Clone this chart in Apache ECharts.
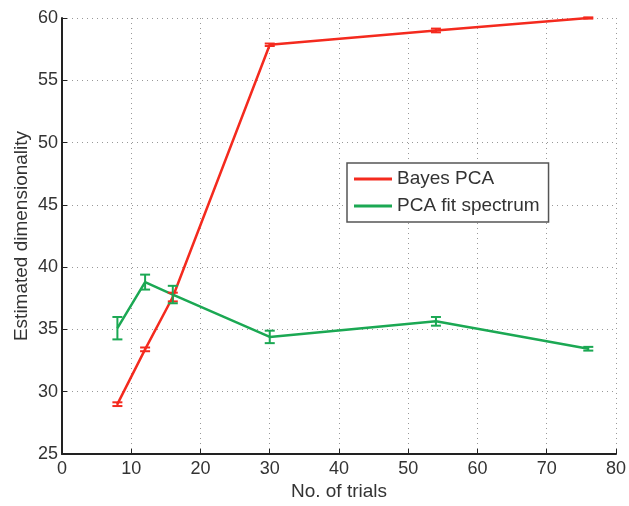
<!DOCTYPE html>
<html>
<head>
<meta charset="utf-8">
<script src="https://cdn.jsdelivr.net/npm/echarts@6/dist/echarts.min.js"></script>
<style>
  html, body { margin: 0; padding: 0; background: #fff; }
  #chart { width: 629px; height: 506px; }
</style>
</head>
<body>
<div id="chart"></div>
<script>
    // values
    var trials = [8, 12, 16, 30, 54, 76];
    var bayesMean = [29.0, 33.4, 37.6, 57.85, 59.0, 60.0];
    var bayesErr = [0.15, 0.15, 0.35, 0.1, 0.15, 0.05];
    var fitMean = [35.1, 38.8, 37.8, 34.4, 35.65, 33.45];
    var fitErr = [0.9, 0.6, 0.7, 0.5, 0.35, 0.15];

    var RED = '#f42a1e';
    var GREEN = '#1ba853';

    function pairs(xs, ys) {
        return xs.map(function (x, i) { return [x, ys[i]]; });
    }
    function errData(xs, m, e) {
        return xs.map(function (x, i) { return [x, m[i] - e[i], m[i] + e[i]]; });
    }
    function errRender(color) {
        return function (params, api) {
            var lo = api.coord([api.value(0), api.value(1)]);
            var hi = api.coord([api.value(0), api.value(2)]);
            var w = 5;
            var st = { stroke: color, lineWidth: 2 };
            return {
                type: 'group',
                children: [
                    { type: 'line', shape: { x1: lo[0], y1: lo[1], x2: hi[0], y2: hi[1] }, style: st },
                    { type: 'line', shape: { x1: lo[0] - w, y1: lo[1], x2: lo[0] + w, y2: lo[1] }, style: st },
                    { type: 'line', shape: { x1: hi[0] - w, y1: hi[1], x2: hi[0] + w, y2: hi[1] }, style: st }
                ]
            };
        };
    }

    var myChart = echarts.init(document.getElementById('chart'));
    var font = 'Liberation Sans, Helvetica, Arial, sans-serif';
    var gridLine = { show: true, lineStyle: { color: '#999', type: [1, 4], width: 1 } };

    var option = {
        animation: false,
        textStyle: { fontFamily: font },
        grid: { left: 62, right: 11, top: 18, bottom: 49 },
        legend: {
            orient: 'vertical',
            left: 347,
            top: 163,
            padding: [6, 9, 6, 7],
            itemGap: 7,
            itemWidth: 38,
            itemHeight: 3,
            icon: 'rect',
            backgroundColor: '#fff',
            borderColor: '#555',
            borderWidth: 1.5,
            borderRadius: 0,
            textStyle: { fontSize: 19, color: '#333', lineHeight: 20, fontFamily: font },
            data: ['Bayes PCA', 'PCA fit spectrum']
        },
        xAxis: {
            type: 'value',
            min: 0, max: 80, interval: 10,
            name: 'No. of trials',
            nameLocation: 'middle',
            nameMoveOverlap: false,
            nameGap: 28,
            nameTextStyle: { fontSize: 19, color: '#333' },
            axisLine: { lineStyle: { color: '#222', width: 2 } },
            axisTick: { inside: true, length: 5, lineStyle: { color: '#222' } },
            axisLabel: { fontSize: 18, color: '#333', margin: 6 },
            splitLine: gridLine
        },
        yAxis: {
            type: 'value',
            min: 25, max: 60, interval: 5,
            name: 'Estimated dimensionality',
            nameLocation: 'middle',
            nameMoveOverlap: false,
            nameGap: 31,
            nameTextStyle: { fontSize: 19, color: '#333' },
            axisLine: { show: true, lineStyle: { color: '#222', width: 2 } },
            axisTick: { show: true, inside: true, length: 5, lineStyle: { color: '#222' } },
            axisLabel: { fontSize: 18, color: '#333', margin: 4 },
            splitLine: gridLine
        },
        series: [
            {
                name: 'Bayes PCA',
                type: 'line',
                data: pairs(trials, bayesMean),
                showSymbol: false,
                color: RED,
                lineStyle: { color: RED, width: 2.5 },
                z: 3
            },
            {
                name: 'PCA fit spectrum',
                type: 'line',
                data: pairs(trials, fitMean),
                showSymbol: false,
                color: GREEN,
                lineStyle: { color: GREEN, width: 2.5 },
                z: 3
            },
            {
                name: 'Bayes PCA',
                type: 'custom',
                data: errData(trials, bayesMean, bayesErr),
                renderItem: errRender(RED),
                z: 4
            },
            {
                name: 'PCA fit spectrum',
                type: 'custom',
                data: errData(trials, fitMean, fitErr),
                renderItem: errRender(GREEN),
                z: 4
            }
        ]
    };

    // 绘制图表
    myChart.setOption(option);
</script>
</body>
</html>
